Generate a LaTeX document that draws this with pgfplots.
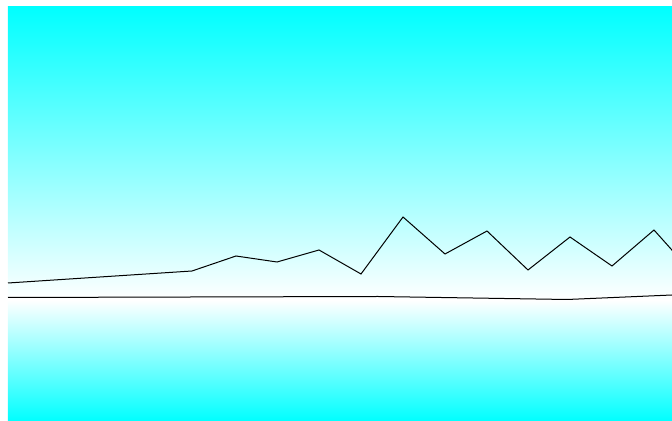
\documentclass[border=0pt]{standalone}
\usepackage{pgfplots}
\pgfplotsset{compat=1.18}
\begin{document}
\begin{tikzpicture}
\begin{axis}[
    width=332pt, height=207pt,
    scale only axis,
    axis lines=none,
    xmin=8, xmax=672,
    ymin=0, ymax=414,
    ticks=none,
    clip=true,
]
    % background shading: cyan -> white -> cyan
    \fill[top color=cyan, bottom color=white] (axis cs:8,414) rectangle (axis cs:672,121);
    \fill[top color=white, bottom color=cyan] (axis cs:8,121) rectangle (axis cs:672,0);
    \addplot[black, line width=0.5pt] coordinates {
        (8,138) (192,150) (236,165) (277,159) (319,171) (361,147) (403,204)
        (445,167) (487,190) (528,151) (570,184) (612,155) (654,191) (696,144)
    };
    \addplot[black, line width=0.5pt] coordinates {
        (8,123.5) (192,124) (378,124.5) (567,121.5) (672,126)
    };
\end{axis}
\path[use as bounding box] ([xshift=-4pt]current axis.south west) rectangle ([yshift=3.5pt]current axis.north east);
\end{tikzpicture}
\end{document}
